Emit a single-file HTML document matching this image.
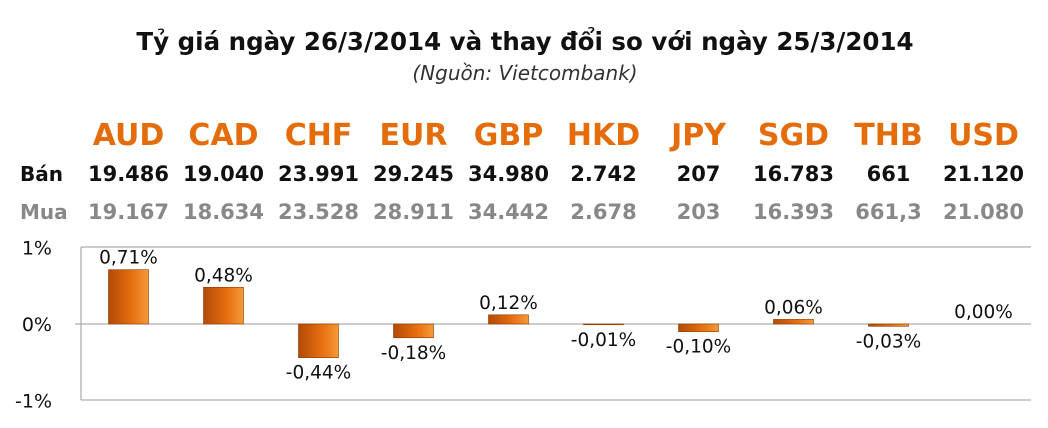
<!DOCTYPE html>
<html><head><meta charset="utf-8"><style>
body{margin:0;width:1048px;height:428px;background:#fff;overflow:hidden;font-family:"DejaVu Sans","Liberation Sans",sans-serif;}
svg{position:absolute;left:0;top:0}
</style></head><body>
<svg width="1048" height="428" id="c">
<defs>
<linearGradient id="g" x1="0" y1="0" x2="1" y2="0"><stop offset="0" stop-color="#b24a08"/><stop offset="0.6" stop-color="#e8700f"/><stop offset="1" stop-color="#f59a3a"/></linearGradient>
</defs>
<text x="525" y="50" text-anchor="middle" font-weight="bold" font-size="24.5" fill="#111">Tỷ giá ngày 26/3/2014 và thay đổi so với ngày 25/3/2014</text>
<text x="525" y="80" text-anchor="middle" font-style="italic" font-size="20" fill="#333">(Nguồn: Vietcombank)</text>
<text x="20" y="181" font-weight="bold" font-size="20" fill="#111">Bán</text>
<text x="20" y="219" font-weight="bold" font-size="20" fill="#888">Mua</text>
<line x1="81" y1="247" x2="1031" y2="247" stroke="#999"/>
<line x1="81" y1="400" x2="1031" y2="400" stroke="#999"/>
<line x1="81" y1="247" x2="81" y2="400" stroke="#999"/>
<line x1="75" y1="324" x2="1031" y2="324" stroke="#999"/>
</svg>
<script>
const categories=["AUD","CAD","CHF","EUR","GBP","HKD","JPY","SGD","THB","USD"];
const banValues=["19.486","19.040","23.991","29.245","34.980","2.742","207","16.783","661","21.120"];
const muaValues=["19.167","18.634","23.528","28.911","34.442","2.678","203","16.393","661,3","21.080"];
const changes=[0.71,0.48,-0.44,-0.18,0.12,-0.01,-0.10,0.06,-0.03,0.00];
const yTicks=[1,0,-1];
const yTickLabels=["1%","0%","-1%"];
const NS="http://www.w3.org/2000/svg",svg=document.getElementById('c');
const x0=81,step=95,bw=40;
const xC=i=>x0+step*(i+0.5);
const yS=v=>324-v*76.5;
function el(tag,a,txt){const e=document.createElementNS(NS,tag);for(const k in a)e.setAttribute(k,a[k]);if(txt!==undefined)e.textContent=txt;svg.appendChild(e);return e;}
yTicks.forEach((v,i)=>{
 const t=el('text',{x:52,y:yS(v)+7,'text-anchor':'end','font-size':19,fill:'#111'},yTickLabels[i]);
 
 
});
categories.forEach((c,i)=>{
 const x=xC(i);
 const h=el('text',{x:x,y:145,'text-anchor':'middle','font-weight':'bold','font-size':30,fill:'#e46c0a'},c);
 
 
 const b=el('text',{x:x,y:181,'text-anchor':'middle','font-weight':'bold','font-size':21,fill:'#111'},banValues[i]);
 
 
 const m=el('text',{x:x,y:219,'text-anchor':'middle','font-weight':'bold','font-size':21,fill:'#888'},muaValues[i]);
 
 
 const v=changes[i];
 const y1=yS(Math.max(v,0)),y2=yS(Math.min(v,0));
 if(y2-y1>0.5){
  const r=el('rect',{x:x-bw/2,y:y1,width:bw,height:y2-y1,fill:'url(#g)',stroke:'#8a3a00','stroke-width':0.6});
  
  
 }
 const lbl=(v<0?'-':'')+Math.abs(v).toFixed(2).replace('.',',')+'%';
 const ly=v>=0?y1-6:y2+21;
 const l=el('text',{x:x,y:ly,'text-anchor':'middle','font-size':18.5,fill:'#111'},lbl);
 
 
});
</script>
</body></html>
